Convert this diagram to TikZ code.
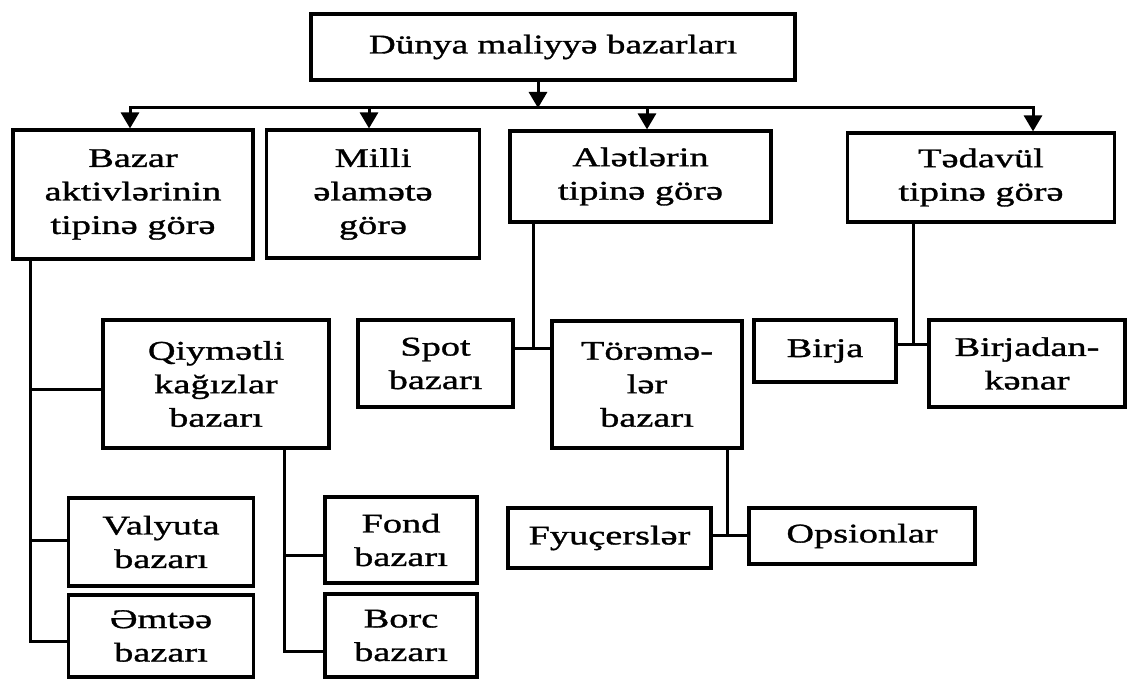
\documentclass[tikz,border=0pt]{standalone}
\usepackage{fontspec}
\setmainfont{Liberation Serif}[FakeStretch=1.42, FakeBold=1.2]
\newfontfamily\titlefont{Liberation Serif}[FakeStretch=1.38, FakeBold=1.2]
\usetikzlibrary{positioning, arrows.meta}
\tikzset{
box/.style={draw, line width=3.2pt, align=center, inner sep=2pt, font=\fontsize{27}{33.5}\selectfont}, % every box of the scheme
link/.style={line width=3pt, line cap=rect}, % plain connectors between boxes
down/.style={link, -{Triangle[width=18pt,length=16pt]}}, % arrows below the title box
}
\begin{document}
\begin{tikzpicture}[x=1pt, y=-1pt]
\useasboundingbox (0,0) rectangle (1129,679);

% title and first level
\node[box, minimum width=484, minimum height=66, font=\titlefont\fontsize{27}{33.5}\selectfont] (WORLD) at (553,47) {Dünya maliyyə bazarları};
\node[box, minimum width=240, minimum height=129] (ASSET) at (133,194.5) {Bazar\\aktivlərinin\\tipinə görə};
\node[box, minimum width=213, minimum height=128] (NATION) at (373,194) {Milli\\əlamətə\\görə};
\node[box, minimum width=261, minimum height=91] (TOOLS) at (640.5,176.5) {Alətlərin\\tipinə görə};
\node[box, minimum width=267, minimum height=89] (TRADE) at (981,177.5) {Tədavül\\tipinə görə};

% second level
\node[box, minimum width=226, minimum height=128] (SEC) at (216,384) {Qiymətli\\kağızlar\\bazarı};
\node[box, minimum width=155, minimum height=87] (SPOT) at (435.5,363.5) {Spot\\bazarı};
\node[box, minimum width=190, minimum height=127] (DERIV) at (647,384.5) {Törəmə-\\lər\\bazarı};
\node[box, minimum width=142, minimum height=62] (EXCH) at (825,351) {Birja};
\node[box, minimum width=196, minimum height=87] (OTC) at (1027,363.5) {Birjadan-\\kənar};

% third level
\node[box, minimum width=185, minimum height=88] (CURR) at (161,542) {Valyuta\\bazarı};
\node[box, minimum width=185, minimum height=82] (COMM) at (161,636) {Əmtəə\\bazarı};
\node[box, minimum width=152, minimum height=86] (STOCK) at (401,540) {Fond\\bazarı};
\node[box, minimum width=152, minimum height=83] (DEBT) at (401,635.5) {Borc\\bazarı};
\node[box, minimum width=203, minimum height=60] (FUT) at (609.5,538) {Fyuçerslər};
\node[box, minimum width=226, minimum height=56] (OPT) at (862,536) {Opsionlar};

% junction points
\coordinate (H) at (538,108);
\coordinate (H1) at (130,108);
\coordinate (H2) at (369,108);
\coordinate (H3) at (647,108);
\coordinate (H4) at (1033,108);
\coordinate (A1) at (30,389);
\coordinate (A2) at (30,540);
\coordinate (A3) at (30,641);
\coordinate (S1) at (284,555);
\coordinate (S2) at (284,651);
\coordinate (T1) at (533,348);
\coordinate (R1) at (913,344);
\coordinate (D1) at (727,535);

\draw[down] (WORLD.south -| H) -- (H);
\draw[link] (H1) -- (H4);
\draw[down] (H1) -- (H1 |- ASSET.north);
\draw[down] (H2) -- (H2 |- NATION.north);
\draw[down] (H3) -- (H3 |- TOOLS.north);
\draw[down] (H4) -- (H4 |- TRADE.north);

\draw[link] (ASSET.south -| A3) -- (A3) -- (A3 -| COMM.west);
\draw[link] (A1) -- (A1 -| SEC.west);
\draw[link] (A2) -- (A2 -| CURR.west);

\draw[link] (SEC.south -| S2) -- (S2) -- (S2 -| DEBT.west);
\draw[link] (S1) -- (S1 -| STOCK.west);

\draw[link] (TOOLS.south -| T1) -- (T1);
\draw[link] (T1 -| SPOT.east) -- (T1 -| DERIV.west);

\draw[link] (TRADE.south -| R1) -- (R1);
\draw[link] (R1 -| EXCH.east) -- (R1 -| OTC.west);

\draw[link] (DERIV.south -| D1) -- (D1);
\draw[link] (D1 -| FUT.east) -- (D1 -| OPT.west);

\end{tikzpicture}
\end{document}
